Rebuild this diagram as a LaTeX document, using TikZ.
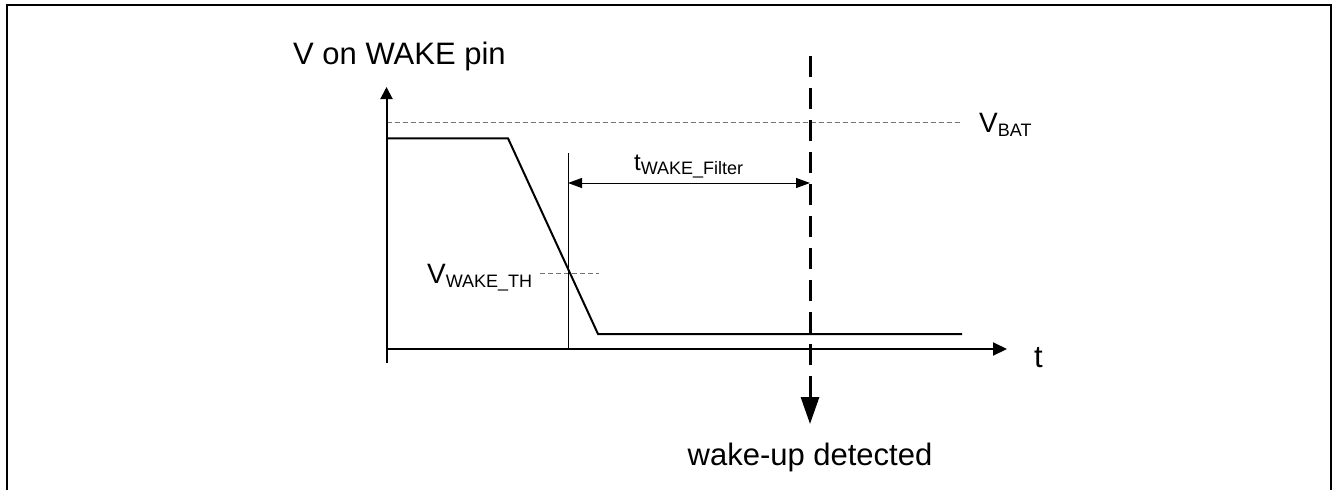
\documentclass[tikz,border=0pt]{standalone}
\usepackage{fontspec}
\setmainfont{Liberation Sans}
\usetikzlibrary{arrows.meta}
\newcommand{\subtxt}[1]{\raisebox{-4pt}{\fontsize{18}{18}\selectfont #1}}
\begin{document}
\begin{tikzpicture}[x=1pt,y=-1pt,
  frame/.style={line width=2pt},
  axis/.style={line width=2pt},
  sig/.style={line width=2pt, line join=miter},
  thin/.style={line width=1pt},
  refdash/.style={line width=1pt, draw=black!55, dash pattern=on 5pt off 3pt},
  bigdash/.style={line width=3pt, dash pattern=on 21pt off 11pt},
  biglabel/.style={inner sep=0pt, font=\fontsize{31}{31}\selectfont},
  sublabel/.style={inner sep=0pt, font=\fontsize{28}{28}\selectfont},
  tlabel/.style={inner sep=0pt, font=\fontsize{24}{24}\selectfont}]
\useasboundingbox (0,0) rectangle (1332,490);
% frame (open at the bottom)
\draw[frame] (7,490) -- (7,5) -- (1330.5,5) -- (1330.5,490);

% coordinates
\coordinate (Ybot) at (386.5,363);
\coordinate (Ytop) at (386.5,87);
\coordinate (Xst) at (386.5,349);
\coordinate (Xend) at (1007,349);
\coordinate (Bst) at (386.5,122.7);
\coordinate (Bend) at (962,122.7);
\coordinate (Hst) at (386.5,138.3);
\coordinate (Hend) at (508,138.3);
\coordinate (Lst) at (598,334);
\coordinate (Lend) at (962,334);
\coordinate (Mtop) at (568,153);
\coordinate (Mbot) at (568,349);
\coordinate (Fl) at (568,183);
\coordinate (Fr) at (810,183);
\coordinate (Dtop) at (810,56);
\coordinate (Dmid) at (810,397);
\coordinate (Dtip) at (810,424);
\coordinate (Thl) at (540,273.7);
\coordinate (Thr) at (599,273.7);

% reference lines
\draw[refdash] (Bst) -- (Bend);
\draw[refdash] (Thl) -- (Thr);

% axes
\draw[axis, -{Triangle[length=12pt,width=12pt]}] (Ybot) -- (Ytop);
\draw[axis, -{Triangle[length=14pt,width=13pt]}] (Xst) -- (Xend);

% signal
\draw[sig] (Hst) -- (Hend) -- (Lst) -- (Lend);

% filter time
\draw[thin] (Mtop) -- (Mbot);
\draw[thin, {Triangle[length=14pt,width=10pt]}-{Triangle[length=14pt,width=10pt]}] (Fl) -- (Fr);

% wake-up detected marker
\draw[bigdash] (Dtop) -- (Dmid);
\draw[line width=3pt, -{Triangle[length=27pt,width=18pt]}] ([yshift=-2pt]Dmid) -- (Dtip);

% labels
\node[biglabel, anchor=base west] (ylab) at (293,64) {V on WAKE pin};
\node[biglabel, anchor=base west] (tlab) at (1034,367) {t};
\node[biglabel, anchor=base] (wlab) at (810,465) {wake-up detected};
\node[sublabel, anchor=base west] (vbat) at (979,132) {V\subtxt{BAT}};
\node[sublabel, anchor=base west] (vth) at (427,283) {V\subtxt{WAKE\_TH}};
\node[tlabel, anchor=base west] (tf) at (634,170) {t\subtxt{WAKE\_Filter}};
\end{tikzpicture}
\end{document}
